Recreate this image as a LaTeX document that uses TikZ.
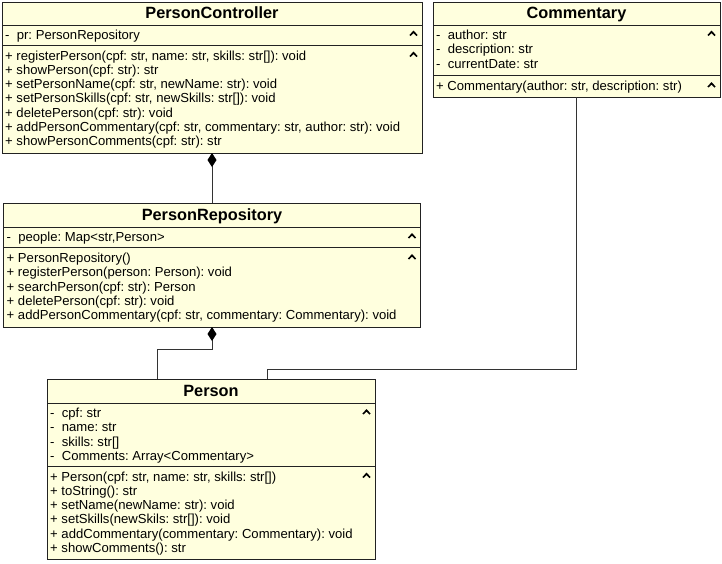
\documentclass[tikz,border=0pt]{standalone}
\usepackage{fontspec}
\setmainfont{Liberation Sans}
\usetikzlibrary{arrows.meta}
\definecolor{umlfill}{HTML}{FFFFDE}
\definecolor{umlline}{HTML}{222222}
\newcommand\umlcaret[2]{\draw[caretline] (#1-3.5,#2+2) -- (#1,#2-1.6) -- (#1+3.5,#2+2);}
\begin{document}
\frenchspacing
\begin{tikzpicture}[x=1pt,y=-1pt,
  classbox/.style={draw=umlline, fill=umlfill, line width=1pt, inner sep=0pt, outer sep=0pt, anchor=north west},
  sepline/.style={draw=umlline, line width=1pt},
  titletext/.style={font=\fontsize{16.3}{19}\selectfont\bfseries, inner sep=0pt, anchor=base},
  item/.style={font=\fontsize{13.1}{15}\selectfont\frenchspacing, inner sep=0pt, anchor=base west},
  caretline/.style={draw=black, line width=1.7pt},
  link/.style={draw=black!80, line width=1pt},
  comp/.style={link, -{Diamond[length=14pt,width=9pt,color=black]}}
]
\useasboundingbox (0,0) rectangle (722,563);

% ---------------- PersonController ----------------
\node[classbox, minimum width=420pt, minimum height=151pt] (pc) at (2,2) {};
\draw[sepline] (2,25) -- (422,25);
\draw[sepline] (2,45) -- (422,45);
\node[titletext] (pcT) at (212,18.8) {PersonController};
\node[item] (pcA1) at (5,39.5) {-\ \ pr: PersonRepository};
\node[item] (pcM1) at (5,60.0) {+ registerPerson(cpf: str, name: str, skills: str[]): void};
\node[item] (pcM2) at (5,74.3) {+ showPerson(cpf: str): str};
\node[item] (pcM3) at (5,88.6) {+ setPersonName(cpf: str, newName: str): void};
\node[item] (pcM4) at (5,102.9) {+ setPersonSkills(cpf: str, newSkills: str[]): void};
\node[item] (pcM5) at (5,117.2) {+ deletePerson(cpf: str): void};
\node[item] (pcM6) at (5,131.5) {+ addPersonCommentary(cpf: str, commentary: str, author: str): void};
\node[item] (pcM7) at (5,145.8) {+ showPersonComments(cpf: str): str};
\umlcaret{413.5}{33.5}
\umlcaret{413.5}{54.5}

% ---------------- Commentary ----------------
\node[classbox, minimum width=287pt, minimum height=95pt] (cm) at (433,2) {};
\draw[sepline] (433,25) -- (720,25);
\draw[sepline] (433,75.5) -- (720,75.5);
\node[titletext] (cmT) at (576.5,18.8) {Commentary};
\node[item] (cmA1) at (436,39.5) {-\ \ author: str};
\node[item] (cmA2) at (436,53.8) {-\ \ description: str};
\node[item] (cmA3) at (436,68.1) {-\ \ currentDate: str};
\node[item] (cmM1) at (436,90.3) {+ Commentary(author: str, description: str)};
\umlcaret{711.5}{33.5}
\umlcaret{711.5}{85}

% ---------------- PersonRepository ----------------
\node[classbox, minimum width=417pt, minimum height=124pt] (repo) at (3.5,203) {};
\draw[sepline] (3.5,227) -- (420.5,227);
\draw[sepline] (3.5,247.5) -- (420.5,247.5);
\node[titletext] (repoT) at (212,220.7) {PersonRepository};
\node[item] (repoA1) at (6.5,241.5) {-\ \ people: Map<str,Person>};
\node[item] (repoM1) at (6.5,262.5) {+ PersonRepository()};
\node[item] (repoM2) at (6.5,276.8) {+ registerPerson(person: Person): void};
\node[item] (repoM3) at (6.5,291.1) {+ searchPerson(cpf: str): Person};
\node[item] (repoM4) at (6.5,305.4) {+ deletePerson(cpf: str): void};
\node[item] (repoM5) at (6.5,319.7) {+ addPersonCommentary(cpf: str, commentary: Commentary): void};
\umlcaret{412}{236}
\umlcaret{412}{257}

% ---------------- Person ----------------
\node[classbox, minimum width=328pt, minimum height=180.5pt] (person) at (47,379) {};
\draw[sepline] (47,403) -- (375,403);
\draw[sepline] (47,466) -- (375,466);
\node[titletext] (personT) at (211,396.7) {Person};
\node[item] (perA1) at (50,417.5) {-\ \ cpf: str};
\node[item] (perA2) at (50,431.8) {-\ \ name: str};
\node[item] (perA3) at (50,446.1) {-\ \ skills: str[]};
\node[item] (perA4) at (50,460.4) {-\ \ Comments: Array<Commentary>};
\node[item] (perM1) at (50,481.0) {+ Person(cpf: str, name: str, skills: str[])};
\node[item] (perM2) at (50,495.3) {+ toString(): str};
\node[item] (perM3) at (50,509.6) {+ setName(newName: str): void};
\node[item] (perM4) at (50,523.9) {+ setSkills(newSkils: str[]): void};
\node[item] (perM5) at (50,538.2) {+ addCommentary(commentary: Commentary): void};
\node[item] (perM6) at (50,552.5) {+ showComments(): str};
\umlcaret{366.5}{412}
\umlcaret{366.5}{475.5}

% ---------------- connectors ----------------
\coordinate (j1) at (157,349);
\coordinate (j2) at (267,369);
\draw[comp] (repo.north -| pc.south) -- (pc.south);
\draw[comp] (person.north -| j1) -- (j1) -- (j1 -| repo.south) -- (repo.south);
\draw[link] (cm.south) |- (j2) -- (person.north -| j2);
\end{tikzpicture}
\end{document}
